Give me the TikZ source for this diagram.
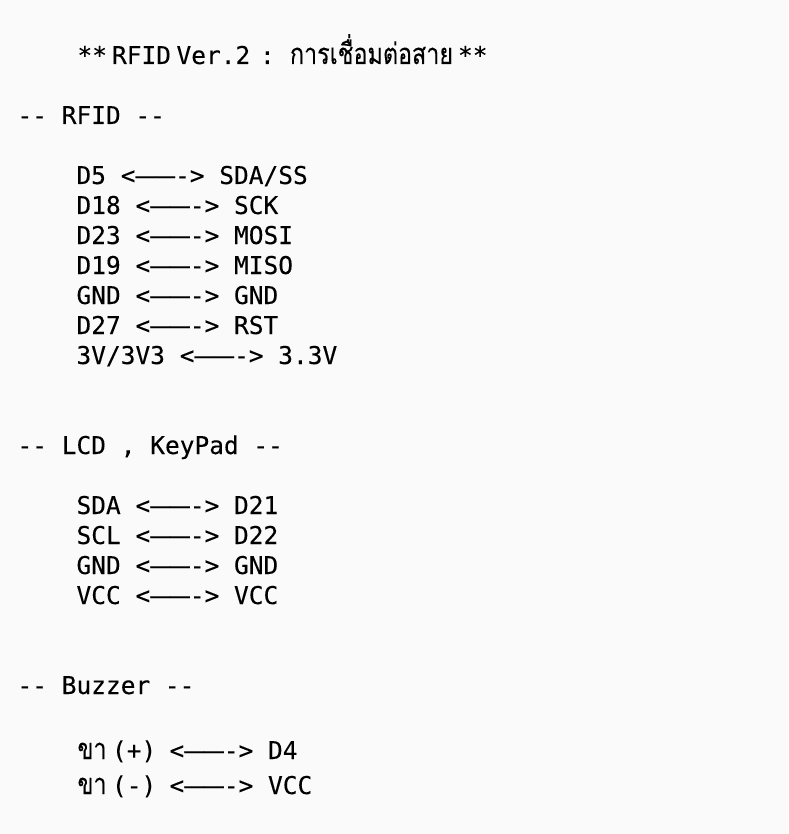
\documentclass[tikz,border=0pt]{standalone}
\usepackage{fontspec}
\usepackage{graphicx}
\newfontfamily\mono[FakeBold=0.12]{DejaVu Sans Mono}
\newfontfamily\thaifont[Script=Thai,FakeBold=0.12]{Loma}
\definecolor{bg}{RGB}{250,250,250}
\definecolor{ink}{RGB}{0,0,0}
\newlength\thw
\newcommand\arr{<\scalebox{1.34}[1]{——}->}
\begin{document}
\settowidth{\thw}{\thaifont\fontsize{20pt}{24pt}\selectfont การเชื่อมต่อสาย}
\pgfmathsetmacro\thsz{1.25*20*163/\thw}
\newcommand\thai[1]{\scalebox{0.8}[1]{\thaifont\fontsize{\thsz pt}{\thsz pt}\selectfont #1}}
\begin{tikzpicture}[x=1pt,y=-1pt,
  txt/.style={anchor=base west,inner sep=0pt,outer sep=0pt,text=ink,
    font=\mono\fontsize{24.5pt}{30pt}\selectfont}]
\fill[bg] (0,0) rectangle (788,834);
\useasboundingbox (0,0) rectangle (788,834);
% title
\node[txt] (t1) at (77.5,64) {**};
\node[txt] (t2) at (112,64) {RFID};
\node[txt] (t3) at (176.5,64) {Ver.2};
\node[txt] (t4) at (260,64) {:};
\node[txt] (t5) at (290,64) {\thai{การเชื่อมต่อสาย}};
\node[txt] (t6) at (458,64) {**};
% RFID
\node[txt] (h1) at (17.5,124) {-{}- RFID -{}-};
\node[txt] (r1) at (76.5,184) {D5 \arr{} SDA/SS};
\node[txt] (r2) at (76.5,214) {D18 \arr{} SCK};
\node[txt] (r3) at (76.5,244) {D23 \arr{} MOSI};
\node[txt] (r4) at (76.5,274) {D19 \arr{} MISO};
\node[txt] (r5) at (76.5,304) {GND \arr{} GND};
\node[txt] (r6) at (76.5,334) {D27 \arr{} RST};
\node[txt] (r7) at (76.5,364) {3V/3V3 \arr{} 3.3V};
% LCD
\node[txt] (h2) at (17.5,454) {-{}- LCD , KeyPad -{}-};
\node[txt] (l1) at (76.5,514) {SDA \arr{} D21};
\node[txt] (l2) at (76.5,544) {SCL \arr{} D22};
\node[txt] (l3) at (76.5,574) {GND \arr{} GND};
\node[txt] (l4) at (76.5,604) {VCC \arr{} VCC};
% Buzzer
\node[txt] (h3) at (17.5,694) {-{}- Buzzer -{}-};
\node[txt] (b1a) at (77.5,759) {\thai{ขา}};
\node[txt] (b1b) at (112,759) {(+)};
\node[txt] (b1c) at (169.5,759) {\arr{} D4};
\node[txt] (b2a) at (77.5,794) {\thai{ขา}};
\node[txt] (b2b) at (112,794) {(-)};
\node[txt] (b2c) at (169.5,794) {\arr{} VCC};
\end{tikzpicture}
\end{document}
